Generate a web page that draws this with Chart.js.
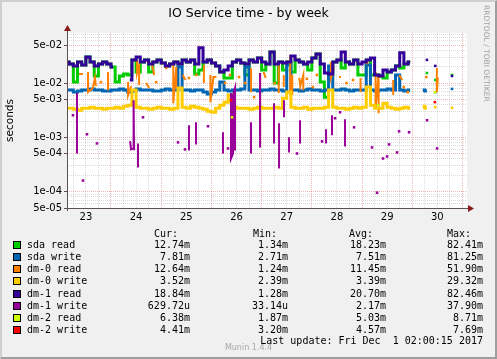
<!DOCTYPE html>
<html><head><meta charset="utf-8">
<script src="https://cdn.jsdelivr.net/npm/chart.js@4.4.0/dist/chart.umd.min.js"></script>
<style>
html,body{margin:0;padding:0;background:#f0f0f0;}
#wrap{position:relative;width:497px;height:359px;overflow:hidden;background:#f0f0f0;font-family:"DejaVu Sans",sans-serif;color:#000;}
#c{position:absolute;left:0;top:0;}
.t{position:absolute;white-space:pre;}
.mono{font-family:"DejaVu Sans Mono",monospace;font-size:10px;line-height:12px;height:12px;}
.sq{position:absolute;width:6px;height:6px;border:1px solid #000;}
#frame{position:absolute;left:0;top:0;width:497px;height:359px;box-sizing:border-box;border-top:2px solid #cfcfcf;border-left:2px solid #cfcfcf;border-right:2px solid #9e9e9e;border-bottom:2px solid #9e9e9e;pointer-events:none;}
</style></head>
<body>
<div id="wrap">
<canvas id="c" width="497" height="359"></canvas>
<div class="t" style="left:0;width:497px;text-align:center;top:5px;font-size:12.5px;line-height:16px;">IO Service time - by week</div>
<div class="t" style="left:481px;top:5px;writing-mode:vertical-rl;font-size:7.5px;line-height:10px;color:#a0a0a0;">RRDTOOL / TOBI OETIKER</div>
<div class="t" style="left:0;width:497px;text-align:center;top:343px;font-size:8px;line-height:10px;color:#a8a8a8;">Munin 1.4.4</div>
<div id="legend"></div>
<div id="frame"></div>
</div>
<script>
// ---- data ----
const seriesNames  = ['sda read','sda write','dm-0 read','dm-0 write','dm-1 read','dm-1 write','dm-2 read','dm-2 write'];
const seriesColors = ['#00CC00','#0066B3','#FF8000','#FFCC00','#330099','#990099','#CCFF00','#FF0000'];
const curValues = ['12.74m','7.81m','12.64m','3.52m','18.84m','629.72u','6.38m','4.41m'];
const minValues = ['1.34m','2.71m','1.24m','2.39m','1.28m','33.14u','1.87m','3.20m'];
const avgValues = ['18.23m','7.51m','11.45m','3.39m','20.70m','2.17m','5.03m','4.57m'];
const maxValues = ['82.41m','81.25m','51.90m','29.32m','82.46m','37.90m','8.71m','7.69m'];
const lastUpdate = 'Last update: Fri Dec  1 02:00:15 2017';

// x axis in days of Nov 2017 (31 = Dec 1 00:00); samples every 2 hours
const sampleStart = 23.125;
const sampleStepDays = 1/12;
const xMin = 23.124, xMax = 31.09;
const yMin = 5e-5, yMax = 0.0835;

const sdaRead = [
.0245,.0225,.0104,.0245,.0216,.0303,.0245,.0135,.0225,.0245,
.0225,.0198,.0104,.0135,.0147,.0141,.0267,.0160,.0245,.0267,
.0160,.0245,.0267,.0234,.0207,.0225,.0245,.0225,.0267,.0245,
.0267,.0147,.0174,.0245,.0267,.0234,.0207,.0160,.0124,.0124,
.0245,.0267,.0234,.0141,.0267,.0245,.0290,.0174,.0225,.0375,
.0100,.0245,.0174,.0245,.0160,.0267,.0245,.0225,.0174,.0290,
.0344,.0104,.0055,.0147,.0245,.0267,.0190,.0245,.0225,.0267,
.0141,.0141,.0267,.0141,.0141,.0135,.0124,.0160,.0174,.0207,
.0190,.0225,.0245,null,null,null,.0153,null,.0114,null,
null,null,.0141];
const sdaWrite = [
.00742,.00742,.00681,.00711,.00742,.00742,.00774,.00742,.00742,.00711,
.00711,.00742,.00742,.00774,.00742,.00681,.00711,.00774,.00742,.00742,
.00742,.00711,.00711,.00742,.00774,.00742,.00742,.0198,.00742,.00742,
.00711,.00742,.00742,.00681,.00626,.00681,.00742,.0104,.00742,.00711,
.00742,.00742,.00774,.0198,.00742,.00742,.00711,.00742,.00742,.00774,
.00742,.00742,.00711,.0216,.00742,.00742,.00711,.00742,.00774,.00742,
.00742,.00711,.00742,.0207,.00742,.00742,.00774,.00742,.00711,.00742,
.00742,.00742,.0216,.00742,.00711,.00742,.00742,.00774,.00742,.0141,
.00742,.00711,.00742,null,null,.00742,.00711,null,.00681,null,
null,null,.0078];
const dm0Write = [
.00345,.00345,.00330,.00316,.00345,.00345,.00360,.00345,.00345,.00330,
.00345,.00345,.00360,.00345,.00375,.00392,.00742,.00360,.00345,.00345,
.00330,.00345,.00360,.00345,.00345,.00330,.00345,.00808,.00360,.00345,
.00375,.00360,.00345,.00330,.00303,.00290,.00345,.00392,.00445,.00600,
.00360,.00345,.00345,.00345,.00330,.00345,.00360,.00345,.00345,.00345,
.00360,.00345,.00527,.00681,.00360,.00345,.00345,.00360,.00330,.00345,
.00345,.00345,.00360,.00742,.00360,.00345,.00345,.00330,.00345,.00360,
.00345,.00360,.00843,.00392,.00345,.00345,.00426,.00360,.00345,.00330,
.00345,.00360,.00345,null,null,.00375,.00345,null,.00360,null,
null,null,.00352];
const dm1Read = [
.0245,.0225,.0207,.0245,.0216,.0303,.0245,.0207,.0225,.0245,
.0225,.0198,null,null,null,.0114,.0267,.0303,.0245,.0267,
.0225,.0245,.0267,.0234,.0207,.0225,.0245,.0225,.0267,.0245,
.0267,.0225,.0445,.0245,.0267,.0234,.0207,.0160,.0174,.0207,
.0245,.0267,.0234,.0225,.0267,.0245,.0290,.0245,.0225,.0375,
.0225,.0245,.0234,.0245,.0316,.0267,.0245,.0225,.0245,.0290,
.0344,.0225,.0153,.0147,.0245,.0267,.0375,.0245,.0225,.0267,
.0225,.0245,.0267,.0290,.0141,.0135,.0174,.0160,.0174,.0207,
.0360,.0225,.0245,null,null,null,.0267,null,.0207,null,
null,null,.0135];

// irregular series: time (day) / value, null = break
const dm0ReadTimes = [
23.363,23.443,null, 23.542,23.542,23.64,23.68,23.70,null, 23.80,null, 23.94,23.94,null,
24.34,24.34,24.40,null, 24.52,24.52,24.56,24.56,null, 24.70,24.76,null, 24.82,24.86,null, 24.90,null,
25.10,null, 25.24,25.24,25.30,25.30,null, 25.43,25.48,null, 25.55,null, 25.70,null, 25.85,25.85,null,
25.98,25.98,26.04,26.10,null, 26.27,null, 26.37,null, 26.55,null, 26.67,null, 26.79,26.79,null, 26.85,null,
27.04,27.08,null, 27.26,null, 27.34,27.34,null, 27.44,27.44,null, 27.57,27.57,27.61,27.61,null,
27.75,27.77,27.83,27.83,null, 27.90,null, 28.02,null, 28.10,null, 28.38,28.38,28.44,null,
28.54,28.58,null, 28.69,null, 28.82,null, 28.97,28.97,null, 29.10,null, 29.27,29.27,29.33,29.33,null,
29.48,29.50,null, 29.62,29.62,null, 29.74,29.80,null, 29.83,null, 29.91,null, 30.28,null, 30.49,30.49,30.51];
const dm0ReadValues = [
.0147,.0147,null, .0160,.0068,.0081,.0124,.0088,null, .0104,null, .0160,.0074,null,
.0104,.0060,.0088,null, .0267,.0153,.0207,.00918,null, .0100,.0081,null, .0216,.0141,null, .0104,null,
.0190,null, .0234,.00426,.0198,.0081,null, .0141,.0114,null, .0124,null, .0141,null, .0216,.0100,null,
.0141,.00445,.0129,.0129,null, .0100,null, .0141,null, .0129,null, .0100,null, .0190,.0068,null, .00551,null,
.0160,.0124,null, .0100,null, .0216,.00653,null, .0141,.00843,null, .0330,.0060,.0141,.0060,null,
.0124,.0088,.0141,.0074,null, .0120,null, .00843,null, .0141,null, .0245,.0124,.0190,null,
.0129,.0129,null, .0100,null, .0114,null, .0124,.0068,null, .0234,null, .0160,.00360,.0141,.00278,null,
.00445,.00360,null, .0114,.0060,null, .0141,.0114,null, .00843,null, .0068,null, .0129,null, .0190,.0068,.0126];

const dm1WriteTimes = [
23.243,null, 23.323,23.323,null, 23.442,null, 23.522,null, 23.721,null,
24.38,24.40,24.44,24.45,24.46,null, 24.538,24.538,null, 24.637,null,
25.335,null, 25.474,null, 25.554,25.554,null, 25.693,25.693,null, 25.932,null,
26.231,26.231,null, 26.331,null, 26.39,26.39,26.43,26.43,26.47,26.47,null,
26.789,26.789,null, 26.968,26.968,null, 27.247,27.247,null, 27.347,27.347,null,
27.446,27.446,null, 27.546,27.546,null, 27.705,null, 27.765,27.765,null,
28.203,null, 28.283,28.283,null, 28.402,28.402,null, 28.462,null, 28.562,null,
28.661,28.661,null, 28.841,null, 29.199,null, 29.299,null, 29.418,null, 29.498,null,
29.538,null, 29.697,null, 29.737,null, 29.936,null, 30.295,null, 30.494];
const dm1WriteValues = [
.00255,null, .00653,.000505,null, .000160,null, .00114,null, .000774,null,
.00085,.00060,.00062,.00484,.00058,null, .000774,.000278,null, .00234,null,
.000808,null, .000600,null, .00167,.000575,null, .00190,.000741,null, .00160,null,
.00124,.000505,null, .000626,null, .00653,.000408,.000505,.0060,.00808,.000575,null,
.00190,.000505,null, .0153,.000653,null, .00426,.000774,null, .00182,.000267,null,
.00484,.00234,null, .00100,.000528,null, .000505,null, .00207,.000774,null,
.000843,null, .00141,.000774,null, .00255,.00109,null, .00225,null, .00290,null,
.00216,.000681,null, .00153,null, .000653,null, .0000958,null, .000408,null, .000445,null,
.000741,null, .000528,null, .00129,null, .00124,null, .00207,null, .000626];

const dm2ReadTimes  = [26.41, null, 29.32, null, 30.45];
const dm2ReadValues = [.00234, null, .0039, null, .0068];
const dm2WriteTimes  = [26.39, null, 30.45];
const dm2WriteValues = [.00484, null, .00445];

// ---- build ----
function gridData(values){
  return values.map((v,i)=>({x: sampleStart + i*sampleStepDays, y: v}));
}
function irregData(times, values){
  let last = times[0];
  return values.map((v,i)=>{ const t = times[i]==null ? last : times[i]; last = t; return {x:t, y:v}; });
}
function isolated(ctx){
  const d = ctx.dataset.data, i = ctx.dataIndex;
  if (!d[i] || d[i].y == null) return false;
  const p = d[i-1], n = d[i+1];
  return (!p || p.y == null) && (!n || n.y == null);
}
const seriesData = [
  {d: gridData(sdaRead), stepped:'middle', w:3},
  {d: gridData(sdaWrite), stepped:'middle', w:3},
  {d: irregData(dm0ReadTimes, dm0ReadValues), stepped:false, w:2},
  {d: gridData(dm0Write), stepped:'middle', w:3},
  {d: gridData(dm1Read), stepped:'middle', w:3},
  {d: irregData(dm1WriteTimes, dm1WriteValues), stepped:false, w:2},
  {d: irregData(dm2ReadTimes, dm2ReadValues), stepped:false, w:2},
  {d: irregData(dm2WriteTimes, dm2WriteValues), stepped:false, w:2}
];
const datasets = seriesData.map((s,k)=>({
  label: seriesNames[k], data: s.d, stepped: s.stepped,
  borderColor: seriesColors[k], backgroundColor: seriesColors[k],
  borderWidth: s.w, spanGaps: false, tension: 0,
  pointStyle: 'rect', pointBorderWidth: 0,
  pointRadius: ctx => isolated(ctx) ? 1.8 : 0,
  pointHoverRadius: 0,
  order: 7 - k
}));

function mant(v){ const e = Math.floor(Math.log10(v)+1e-9); return {k: Math.round(v/Math.pow(10,e)), e}; }
function fmtExp(v){ const m = mant(v); if (m.k===10){m.k=1;m.e+=1;} return m.k + 'e' + (m.e<0?'-':'+') + String(Math.abs(m.e)).padStart(2,'0'); }

const axesPlugin = {
  id: 'rrdAxes',
  beforeDraw(chart){
    const a = chart.chartArea, c = chart.ctx;
    c.save(); c.fillStyle = '#ffffff'; c.fillRect(a.left, a.top, a.right-a.left, a.bottom-a.top); c.restore();
  },
  afterDraw(chart){
    const a = chart.chartArea, c = chart.ctx;
    c.save();
    c.strokeStyle = '#5a5050'; c.lineWidth = 1;
    c.beginPath();
    c.moveTo(a.left+0.5, a.bottom+3); c.lineTo(a.left+0.5, a.top-3);
    c.moveTo(a.left-3, a.bottom+0.5); c.lineTo(a.right+2, a.bottom+0.5);
    c.stroke();
    c.fillStyle = '#8b1a1a';
    c.beginPath();
    c.moveTo(a.left+0.5, a.top-8); c.lineTo(a.left-3, a.top-2); c.lineTo(a.left+4, a.top-2); c.closePath(); c.fill();
    c.beginPath();
    c.moveTo(a.right+7, a.bottom+0.5); c.lineTo(a.right+1, a.bottom-3); c.lineTo(a.right+1, a.bottom+4); c.closePath(); c.fill();
    c.restore();
  }
};

const gridGray = 'rgba(143,143,143,0.32)';
const gridRed = 'rgba(222,80,80,0.42)';

new Chart(document.getElementById('c'), {
  type: 'line',
  data: { datasets },
  plugins: [axesPlugin],
  options: {
    responsive: false, animation: false, devicePixelRatio: 1,
    layout: { padding: { top: 33, right: 30, left: 0, bottom: 0 } },
    plugins: { legend: {display:false}, title: {display:false}, tooltip: {enabled:false} },
    scales: {
      x: {
        type: 'linear', min: xMin, max: xMax,
        afterBuildTicks: s => { const t=[]; for (let v=23.25; v<=31.0001; v+=0.25) t.push({value: v}); s.ticks = t; },
        afterFit: s => { s.height = 151; },
        ticks: {
          autoSkip: false, maxRotation: 0, minRotation: 0, padding: 0, color: '#000',
          font: { family: 'DejaVu Sans', size: 10 },
          callback: v => Math.abs((v % 1) - 0.5) < 1e-6 ? String(Math.floor(v)) : ''
        },
        grid: {
          color: ctx => (ctx.tick && Math.abs(ctx.tick.value - Math.round(ctx.tick.value)) < 1e-6) ? gridRed : gridGray,
          lineWidth: 1, tickLength: 3, tickColor: 'rgba(0,0,0,0)', tickBorderDash: []
        },
        border: { display: false, dash: [1,1] }
      },
      y: {
        type: 'logarithmic', min: yMin, max: yMax,
        afterBuildTicks: s => {
          const t = [];
          for (let e=-5; e<=-2; e++) for (let k=1; k<=9; k++) {
            const v = k*Math.pow(10,e);
            if (v >= yMin*0.9999 && v <= yMax) t.push({value: v});
          }
          s.ticks = t;
        },
        afterFit: s => { s.width = 67; },
        title: { display: true, text: 'seconds', color: '#000', font: { family: 'DejaVu Sans', size: 10.5 }, padding: { top: 4, bottom: 0 } },
        ticks: {
          autoSkip: false, padding: 2, color: '#000',
          font: { family: 'DejaVu Sans', size: 10 },
          callback: v => { const m = mant(v); return (m.k===1 || m.k===5) ? fmtExp(v) : ''; }
        },
        grid: {
          color: ctx => { if (!ctx.tick) return gridGray; const m = mant(ctx.tick.value); return (m.k===1||m.k===5) ? gridRed : gridGray; },
          lineWidth: 1, tickLength: 3, tickBorderDash: [],
          tickColor: ctx => { if (!ctx.tick) return 'rgba(0,0,0,0)'; const m = mant(ctx.tick.value); return (m.k===1||m.k===5) ? '#5a5050' : 'rgba(0,0,0,0)'; }
        },
        border: { display: false, dash: [1,1] }
      }
    }
  }
});

// ---- legend ----
const L = document.getElementById('legend');
function addText(txt, left, right, cy){
  const d = document.createElement('div');
  d.className = 't mono';
  d.textContent = txt;
  d.style.top = (cy - 6) + 'px';
  if (left != null) d.style.left = left + 'px';
  if (right != null) { d.style.right = (497 - right) + 'px'; d.style.textAlign = 'right'; }
  L.appendChild(d);
}
addText('Cur:', 154, null, 234);
addText('Min:', 253, null, 234);
addText('Avg:', 349, null, 234);
addText('Max:', 447, null, 234);
seriesNames.forEach((n,r)=>{
  const cy = 245.3 + r*12.06;
  const sq = document.createElement('div');
  sq.className = 'sq';
  sq.style.left = '13px'; sq.style.top = Math.round(cy - 4) + 'px';
  sq.style.background = seriesColors[r];
  L.appendChild(sq);
  addText(n, 27, null, cy);
  addText(curValues[r], null, 190, cy);
  addText(minValues[r], null, 288, cy);
  addText(avgValues[r], null, 386, cy);
  addText(maxValues[r], null, 483, cy);
});
addText(lastUpdate, null, 483, 341);
</script>
</body></html>
